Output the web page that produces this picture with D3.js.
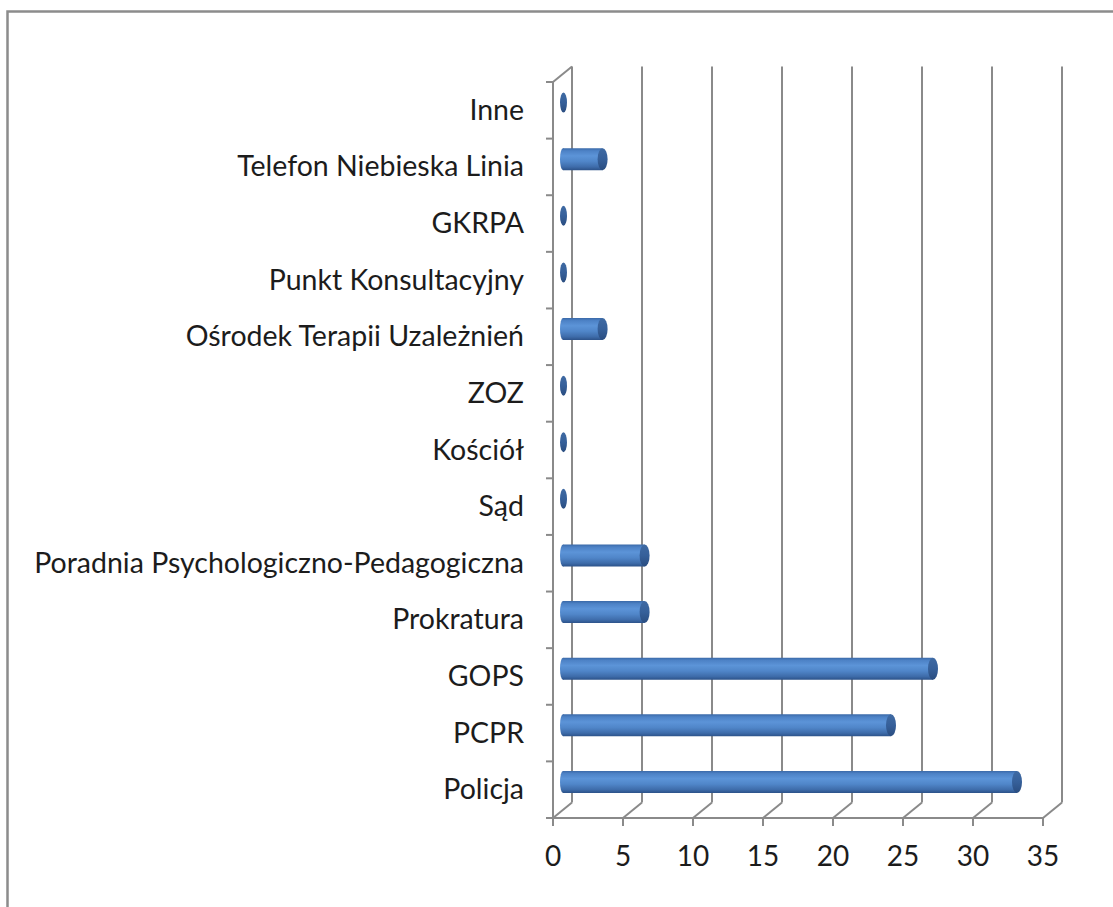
<!DOCTYPE html>
<html>
<head>
<meta charset="utf-8">
<script src="https://cdn.jsdelivr.net/npm/d3@7/dist/d3.min.js"></script>
<style>
  html, body { margin: 0; padding: 0; background: #fff; }
  svg { display: block; }
  text { font-family: Lato, "Open Sans", sans-serif; fill: #1c1c1c; }
</style>
</head>
<body>
<svg id="chart" width="1113" height="907"></svg>
<script>
// Categories listed top to bottom
const categories = [
  "Inne",
  "Telefon Niebieska Linia",
  "GKRPA",
  "Punkt Konsultacyjny",
  "Ośrodek Terapii Uzależnień",
  "ZOZ",
  "Kościół",
  "Sąd",
  "Poradnia Psychologiczno-Pedagogiczna",
  "Prokratura",
  "GOPS",
  "PCPR",
  "Policja"
];
const values = [0, 3.4, 0, 0, 3.4, 0, 0, 0, 6.4, 6.4, 27, 24, 33];
const xTicks = [0, 5, 10, 15, 20, 25, 30, 35];

const svg = d3.select("#chart");

// Outer chart frame (top and left edges visible)
svg.append("rect")
  .attr("x", 7.5).attr("y", 11.5)
  .attr("width", 1200).attr("height", 1000)
  .attr("fill", "none").attr("stroke", "#8c8c8c").attr("stroke-width", 2.5);

// Plot geometry: front plane and depth offset of the 3D walls
const x = d3.scaleLinear().domain([0, 35]).range([553, 1043]);
const y = d3.scaleBand().domain(categories).range([82, 818]);
const depthX = 19, depthY = -15.5;
const gridColor = "#8a8a8a";

const defs = svg.append("defs");
const bodyGrad = defs.append("linearGradient").attr("id", "cylBody")
  .attr("x1", 0).attr("y1", 0).attr("x2", 0).attr("y2", 1);
[[0, "#3a69a8"], [0.12, "#4d82c6"], [0.35, "#5c94d8"], [0.6, "#5086c9"], [0.85, "#3e6caa"], [1, "#2c5289"]]
  .forEach(([o, c]) => bodyGrad.append("stop").attr("offset", o).attr("stop-color", c));
const capGrad = defs.append("linearGradient").attr("id", "cylCap")
  .attr("x1", 0).attr("y1", 0).attr("x2", 0).attr("y2", 1);
[[0, "#3f6aa3"], [0.5, "#36609a"], [1, "#2a4d80"]]
  .forEach(([o, c]) => capGrad.append("stop").attr("offset", o).attr("stop-color", c));

const walls = svg.append("g")
  .attr("fill", "none").attr("stroke", gridColor).attr("stroke-width", 2);

// Back wall vertical gridlines
walls.selectAll("line.grid").data(xTicks).join("line")
  .attr("class", "grid")
  .attr("x1", d => x(d) + depthX).attr("x2", d => x(d) + depthX)
  .attr("y1", y.range()[0] + depthY).attr("y2", y.range()[1] + depthY);

// Floor diagonals from each tick to the back wall
walls.selectAll("line.floor").data(xTicks).join("line")
  .attr("class", "floor")
  .attr("x1", d => x(d)).attr("x2", d => x(d) + depthX)
  .attr("y1", y.range()[1]).attr("y2", y.range()[1] + depthY);

// Side wall: front edge and top diagonal
walls.append("line")
  .attr("x1", x(0)).attr("x2", x(0))
  .attr("y1", y.range()[0]).attr("y2", y.range()[1]);
walls.append("line")
  .attr("x1", x(0)).attr("x2", x(0) + depthX)
  .attr("y1", y.range()[0]).attr("y2", y.range()[0] + depthY);

// Front horizontal axis line
walls.append("line")
  .attr("x1", x(0)).attr("x2", x(35))
  .attr("y1", y.range()[1]).attr("y2", y.range()[1]);

// Bottom axis tick marks
walls.selectAll("line.xtick").data(xTicks).join("line")
  .attr("class", "xtick")
  .attr("x1", d => x(d)).attr("x2", d => x(d))
  .attr("y1", y.range()[1]).attr("y2", y.range()[1] + 8);

// Category boundary tick marks on the left axis
const boundaries = categories.map(c => y(c)).concat([y.range()[1]]);
walls.selectAll("line.ytick").data(boundaries).join("line")
  .attr("class", "ytick")
  .attr("x1", x(0) - 7).attr("x2", x(0))
  .attr("y1", d => d).attr("y2", d => d);

// Tick labels
svg.append("g").selectAll("text").data(xTicks).join("text")
  .attr("x", d => x(d)).attr("y", 866)
  .attr("text-anchor", "middle")
  .attr("font-size", 28)
  .text(d => d);

// Category labels
svg.append("g").selectAll("text").data(categories).join("text")
  .attr("x", 524)
  .attr("y", d => y(d) + y.bandwidth() / 2 + 9.5)
  .attr("text-anchor", "end")
  .attr("font-size", 28.5)
  .text(d => d);

// Cylinders
const barOffset = 7, r = 11, capRx = 5, leftRx = 3;
const bars = svg.append("g");
categories.forEach((c, i) => {
  const v = values[i];
  const cy = y(c) + y.bandwidth() / 2 + depthY / 2;
  const xl = x(0) + barOffset + leftRx;
  if (v === 0) {
    bars.append("ellipse")
      .attr("cx", xl + 0.5).attr("cy", cy)
      .attr("rx", 3.5).attr("ry", r - 1)
      .attr("fill", "url(#cylCap)");
    return;
  }
  const xr = x(v) + barOffset - capRx;
  const p = d3.path();
  p.moveTo(xl, cy - r);
  p.lineTo(xr, cy - r);
  p.lineTo(xr, cy + r);
  p.lineTo(xl, cy + r);
  p.closePath();
  bars.append("path").attr("d", p.toString()).attr("fill", "url(#cylBody)");
  bars.append("ellipse")
    .attr("cx", xl).attr("cy", cy).attr("rx", leftRx).attr("ry", r)
    .attr("fill", "url(#cylBody)");
  bars.append("ellipse")
    .attr("cx", xr).attr("cy", cy).attr("rx", capRx).attr("ry", r)
    .attr("fill", "url(#cylCap)");
});
</script>
</body>
</html>
